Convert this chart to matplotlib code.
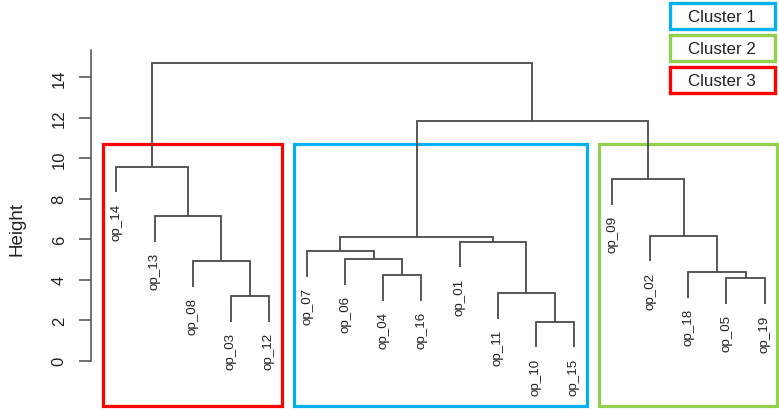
import matplotlib
matplotlib.use("Agg")
import matplotlib.pyplot as plt
from matplotlib.patches import Rectangle

# ---------------- data ----------------
leaf_order = ["op_14", "op_13", "op_08", "op_03", "op_12",
              "op_07", "op_06", "op_04", "op_16", "op_01", "op_11", "op_10", "op_15",
              "op_09", "op_02", "op_18", "op_05", "op_19"]
# merges: leaf names (str) or 1-based index of an earlier merge (int)
merge_a = ["op_10", "op_03", "op_11", "op_05", "op_04", "op_18", "op_08", "op_06",
           "op_07", "op_01", 9, "op_02", "op_13", "op_09", "op_14", 11, 15]
merge_b = ["op_15", "op_12", 1, "op_19", "op_16", 4, 2, 5,
           8, 3, 10, 6, 7, 12, 13, 14, 16]
merge_height = [1.93, 3.21, 3.33, 4.07, 4.23, 4.37, 4.94, 5.02,
                5.40, 5.88, 6.10, 6.18, 7.16, 8.98, 9.59, 11.83, 14.69]
yticks = [0, 2, 4, 6, 8, 10, 12, 14]
ylabel = "Height"
cluster_names = ["Cluster 1", "Cluster 2", "Cluster 3"]
cluster_colors = ["#00B0F0", "#92D050", "#FF0000"]
cluster_first_leaf = ["op_07", "op_09", "op_14"]
cluster_last_leaf = ["op_15", "op_19", "op_12"]
n_clusters = 3
hang_frac = 0.1

# ---------------- figure ----------------
W, H = 779, 410
plt.rcParams["font.family"] = ["Liberation Sans", "DejaVu Sans"]
fig = plt.figure(figsize=(W / 100, H / 100), dpi=100)

def fx(px):
    return px / W

def fy(py):
    return 1 - py / H

ax_l, ax_r, ax_t, ax_b = 90.5, 790.5, 51.2, 406.6
ax = fig.add_axes([fx(ax_l), fy(ax_b), (ax_r - ax_l) / W, (ax_b - ax_t) / H])
n = len(leaf_order)
ax.set_xlim(1 - 0.04 * (n - 1), n + 0.04 * (n - 1))
ax.set_ylim(-2.22, 15.34)

line_col = "#4a4a4a"
text_col = "#222222"
hang = hang_frac * (max(merge_height) - min(merge_height))
leaf_x = {name: i + 1 for i, name in enumerate(leaf_order)}
node_x = {}

for k, (a, b, h) in enumerate(zip(merge_a, merge_b, merge_height), start=1):
    pts = []
    for c in (a, b):
        if isinstance(c, str):
            x, y = leaf_x[c], h - hang
            ax.annotate(c, xy=(x, y), xytext=(0, -7.3), textcoords="offset points",
                        rotation=90, ha="center", va="top", fontsize=9.6,
                        color=text_col)
        else:
            x, y = node_x[c], merge_height[c - 1]
        pts.append((x, y))
    (xa, ya), (xb, yb) = pts
    ax.plot([xa, xa, xb, xb], [ya, h, h, yb], color=line_col, lw=1.3,
            solid_joinstyle="miter", solid_capstyle="butt")
    node_x[k] = (xa + xb) / 2

# cluster rectangles (rect.hclust style)
hs = sorted(merge_height)
rect_top = (hs[-n_clusters] + hs[-(n_clusters - 1)]) / 2
ybot = ax.get_ylim()[0]
for name, col, first, last in zip(cluster_names, cluster_colors,
                                  cluster_first_leaf, cluster_last_leaf):
    x0 = leaf_x[first] - 0.34
    x1 = leaf_x[last] + 0.33
    ax.add_patch(Rectangle((x0, ybot), x1 - x0, rect_top - ybot, fill=False,
                           edgecolor=col, lw=2.3, clip_on=False,
                           joinstyle="miter"))

# axes styling
for s in ("top", "right", "bottom"):
    ax.spines[s].set_visible(False)
ax.spines["left"].set_color(line_col)
ax.spines["left"].set_linewidth(1.1)
ax.spines["left"].set_bounds(0, ax.get_ylim()[1])
ax.set_xticks([])
ax.set_yticks(yticks, labels=[str(t) for t in yticks], rotation=90, va="center")
ax.tick_params(axis="y", length=8.6, width=1.1, color=line_col, pad=8.5,
               labelsize=12, labelcolor=text_col)
ax.text(fx(17) * W / (ax_r - ax_l) - (ax_l / (ax_r - ax_l)), 0.5, ylabel,
        transform=ax.transAxes, rotation=90, ha="center", va="center",
        fontsize=13.5, color=text_col)

# legend boxes
for i, (name, col) in enumerate(zip(cluster_names, cluster_colors)):
    top = 4.2 + 32.1 * i
    bh = 25.6
    left, right = 670.0, 774.5
    fig.patches.append(Rectangle((fx(left), fy(top + bh)), (right - left) / W, bh / H,
                                 transform=fig.transFigure, fill=False,
                                 edgecolor=col, lw=2.4, joinstyle="miter"))
    fig.text(fx((left + right) / 2), fy(top + bh / 2), name, ha="center",
             va="center", fontsize=12.2, color=text_col)

fig.savefig("out.png", dpi=100)
